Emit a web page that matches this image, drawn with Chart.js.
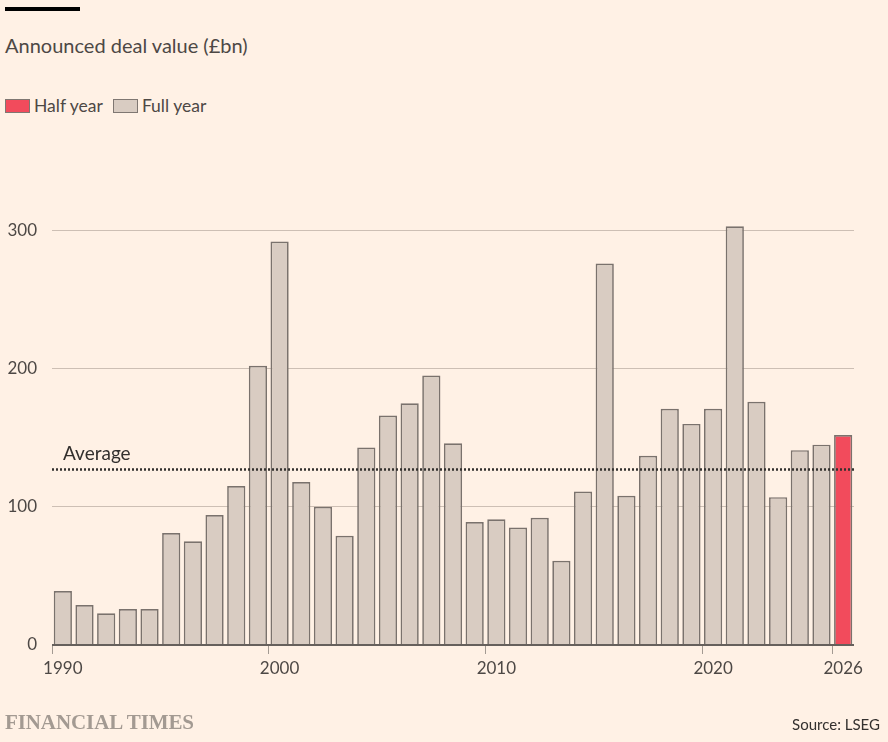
<!DOCTYPE html>
<html>
<head>
<meta charset="utf-8">
<script src="https://cdn.jsdelivr.net/npm/chart.js@4/dist/chart.umd.min.js"></script>
<style>
  html, body { margin: 0; padding: 0; background: #fff1e5; }
  body { width: 888px; height: 742px; position: relative; overflow: hidden; font-family: Lato, sans-serif; color: #4d4845; }
  #bar { position: absolute; left: 5px; top: 7px; width: 75px; height: 4px; background: #000; }
  #title { position: absolute; left: 5px; top: 33px; font-size: 20px; }
  #legend { position: absolute; left: 5px; top: 95px; font-size: 17.5px; display: flex; align-items: center; }
  .sw { width: 23px; height: 12px; border: 1px solid #7f7772; margin-right: 4px; }
  .item { display: flex; align-items: center; margin-right: 10px; }
  #ft { position: absolute; left: 5px; top: 710px; font-family: "Liberation Serif", serif; font-weight: bold; font-size: 21px; color: #a39a92; letter-spacing: -0.1px; }
  #src { position: absolute; right: 8px; top: 715px; font-size: 15px; color: #33302e; }
  #wrap { position: absolute; left: 0; top: 0; width: 888px; height: 742px; }
</style>
</head>
<body>
<div id="bar"></div>
<div id="title">Announced deal value (£bn)</div>
<div id="legend">
  <div class="item"><div class="sw" style="background:#f24b5c"></div>Half year</div>
  <div class="item"><div class="sw" style="background:#d9ccc2"></div>Full year</div>
</div>
<div id="wrap"><canvas id="grafico"></canvas></div>
<div id="ft">FINANCIAL TIMES</div>
<div id="src">Source: LSEG</div>
<script>
const anos = [1990, 1991, 1992, 1993, 1994, 1995, 1996, 1997, 1998, 1999,
  2000, 2001, 2002, 2003, 2004, 2005, 2006, 2007, 2008, 2009,
  2010, 2011, 2012, 2013, 2014, 2015, 2016, 2017, 2018, 2019,
  2020, 2021, 2022, 2023, 2024, 2025, 2026];
const valores = [39, 29, 23, 26, 26, 81, 75, 94, 115, 202,
  292, 118, 100, 79, 143, 166, 175, 195, 146, 89,
  91, 85, 92, 61, 111, 276, 108, 137, 171, 160,
  171, 303, 176, 107, 141, 145, 152];
const meioAno = [2026];
const media = 127;
const anosMarcados = [1990, 2000, 2010, 2020, 2026];
const ticksY = [0, 100, 200, 300];

const corCheio = "#d9ccc2";
const corMeio = "#f24b5c";

const linhaMedia = {
  id: "linhaMedia",
  afterDatasetsDraw(chart) {
    const { ctx, chartArea, scales } = chart;
    const y = scales.y.getPixelForValue(media);
    ctx.save();
    ctx.strokeStyle = "#33302e";
    ctx.lineWidth = 2.5;
    ctx.setLineDash([2, 2]);
    ctx.beginPath();
    ctx.moveTo(chartArea.left, y);
    ctx.lineTo(chartArea.right, y);
    ctx.stroke();
    ctx.setLineDash([]);
    ctx.fillStyle = "#33302e";
    ctx.font = "19px Lato";
    ctx.textBaseline = "middle";
    ctx.fillText("Average", chartArea.left + 11, y - 16);
    ctx.restore();
  }
};

new Chart(document.getElementById("grafico"), {
  type: "bar",
  data: {
    labels: anos.map(String),
    datasets: [{
      data: valores,
      backgroundColor: anos.map(a => meioAno.includes(a) ? corMeio : corCheio),
      borderColor: "#7a726d",
      borderWidth: 1.7,
      borderSkipped: "bottom",
      barPercentage: 0.84,
      categoryPercentage: 1
    }]
  },
  options: {
    responsive: true,
    maintainAspectRatio: false,
    animation: false,
    layout: { padding: { top: 189, right: 34, left: 0, bottom: 0 } },
    plugins: { legend: { display: false }, tooltip: { enabled: false } },
    scales: {
      x: {
        offset: true,
        afterFit: s => { s.height = 97; },
        border: { display: false },
        grid: {
          drawOnChartArea: false,
          drawTicks: true,
          tickLength: 9,
          color: c => anosMarcados.includes(anos[c.index]) ? "#a39a92" : "rgba(0,0,0,0)"
        },
        ticks: {
          autoSkip: false,
          maxRotation: 0,
          padding: 4,
          color: "#4d4845",
          font: { family: "Lato", size: 17 },
          callback: (v, i) => anosMarcados.includes(anos[i]) ? anos[i] : ""
        }
      },
      y: {
        min: 0,
        max: 330,
        afterBuildTicks: s => { s.ticks = ticksY.map(v => ({ value: v })); },
        afterFit: s => { s.width = 52; },
        border: { display: false },
        grid: {
          drawTicks: false,
          color: c => c.tick.value === 0 ? "#66605c" : "#cdbfb4",
          lineWidth: c => c.tick.value === 0 ? 2 : 1
        },
        ticks: {
          padding: 15,
          color: "#4d4845",
          font: { family: "Lato", size: 17 }
        }
      }
    }
  },
  plugins: [linhaMedia]
});
</script>
</body>
</html>
